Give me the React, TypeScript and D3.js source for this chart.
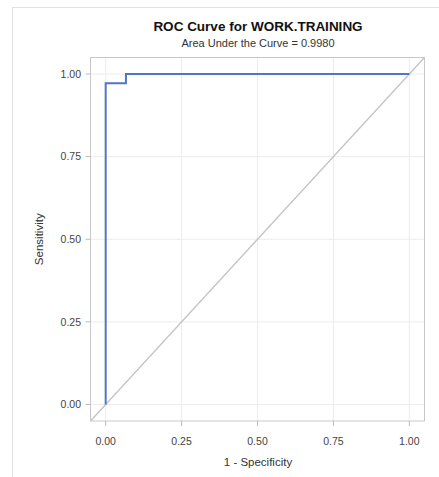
import React from "react";
import * as d3 from "d3";

const fpr = [0, 0, 0.0667, 0.0667, 1];
const tpr = [0, 0.9722, 0.9722, 1, 1];
const tickValues = [0, 0.25, 0.5, 0.75, 1];
const tickLabels = ["0.00", "0.25", "0.50", "0.75", "1.00"];
const title = "ROC Curve for WORK.TRAINING";
const subtitle = "Area Under the Curve = 0.9980";
const xLabel = "1 - Specificity";
const yLabel = "Sensitivity";

export default function App() {
  const W = 439, H = 477;
  const left = 90.5, right = 424.5, top = 57.5, bottom = 421;
  const x = d3.scaleLinear().domain([-0.05, 1.05]).range([left, right]);
  const y = d3.scaleLinear().domain([-0.05, 1.05]).range([bottom, top]);
  const pts: [number, number][] = fpr.map((f, i) => [f, tpr[i]]);
  const line = d3.line<[number, number]>().x(d => x(d[0])).y(d => y(d[1]));
  const font = "Liberation Sans, Arial, sans-serif";
  const cx = (left + right) / 2 + 0.5;
  return (
    <svg width={W} height={H} style={{ position: "absolute", left: 0, top: 0 }} fontFamily={font}>
      <rect x={0} y={0} width={W} height={H} fill="#fff" />
      <rect x={12.5} y={7.5} width={W + 20} height={H + 20} fill="none" stroke="#e2e2e2" />
      <text x={cx} y={31} textAnchor="middle" fontSize={13.5} fontWeight="bold" fill="#111">{title}</text>
      <text x={cx} y={47} textAnchor="middle" fontSize={11} fill="#333">{subtitle}</text>
      {tickValues.map((t, i) => (
        <g key={"g" + i}>
          <line x1={x(t)} x2={x(t)} y1={top} y2={bottom} stroke="#ececec" />
          <line x1={left} x2={right} y1={y(t)} y2={y(t)} stroke="#ececec" />
        </g>
      ))}
      <line x1={x(-0.05)} y1={y(-0.05)} x2={x(1.05)} y2={y(1.05)} stroke="#c4c4c4" strokeWidth={1.3} />
      <path d={line(pts) || ""} fill="none" stroke="#5274c8" strokeWidth={2} />
      <rect x={left} y={top} width={right - left} height={bottom - top} fill="none" stroke="#c8c8c8" />
      {tickValues.map((t, i) => (
        <g key={"x" + i}>
          <line x1={x(t)} x2={x(t)} y1={bottom} y2={bottom + 5} stroke="#bbb" />
          <text x={x(t)} y={445} textAnchor="middle" fontSize={10.5} fill="#444">{tickLabels[i]}</text>
        </g>
      ))}
      {tickValues.map((t, i) => (
        <g key={"y" + i}>
          <line x1={left - 5} x2={left} y1={y(t)} y2={y(t)} stroke="#bbb" />
          <text x={81} y={y(t) + 3.7} textAnchor="end" fontSize={10.5} fill="#444">{tickLabels[i]}</text>
        </g>
      ))}
      <text x={cx} y={466} textAnchor="middle" fontSize={11.5} fill="#333">{xLabel}</text>
      <text transform={`translate(43,${(top + bottom) / 2}) rotate(-90)`} textAnchor="middle" fontSize={11.5} fill="#333">{yLabel}</text>
    </svg>
  );
}
